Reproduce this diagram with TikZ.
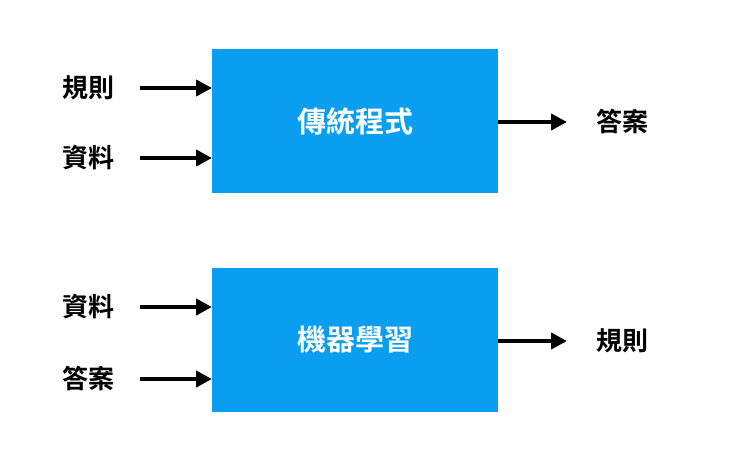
\documentclass[tikz,border=0pt]{standalone}
\usepackage{fontspec}
\newfontfamily\cjk{Noto Sans CJK TC}[BoldFont={* Bold}]
\usetikzlibrary{arrows.meta}
\definecolor{boxblue}{HTML}{0A9EF0}
\begin{document}
\begin{tikzpicture}[x=1pt,y=-1pt,
  box/.style={fill=boxblue,draw=none,minimum width=286pt,minimum height=144pt,inner sep=0pt,text=white,font=\cjk\bfseries\fontsize{29}{32}\selectfont},
  lab/.style={font=\cjk\bfseries\fontsize{26}{30}\selectfont,text=black},
  arr/.style={line width=4pt,-{Triangle[length=16pt,width=16pt]}}]
\useasboundingbox (0,0) rectangle (740,471);
\node[box] (b1) at (355,121) {傳統程式};
\node[box] (b2) at (355,340) {機器學習};
\node[lab] (l1) at (88,88) {規則};
\node[lab] (l2) at (88,158) {資料};
\node[lab] (o1) at (622,122) {答案};
\node[lab] (l3) at (88,307) {資料};
\node[lab] (l4) at (88,379) {答案};
\node[lab] (o2) at (622,341) {規則};
\coordinate (a1) at (140,88); \coordinate (a1e) at (212,88);
\coordinate (a2) at (140,158); \coordinate (a2e) at (212,158);
\coordinate (a3) at (140,307); \coordinate (a3e) at (212,307);
\coordinate (a4) at (140,379); \coordinate (a4e) at (212,379);
\coordinate (r1) at (567,122); \coordinate (r2) at (567,341);
\draw[arr] (a1) -- (a1e);
\draw[arr] (a2) -- (a2e);
\draw[arr] (a3) -- (a3e);
\draw[arr] (a4) -- (a4e);
\draw[arr] (b1.east |- r1) -- (r1);
\draw[arr] (b2.east |- r2) -- (r2);
\end{tikzpicture}
\end{document}
